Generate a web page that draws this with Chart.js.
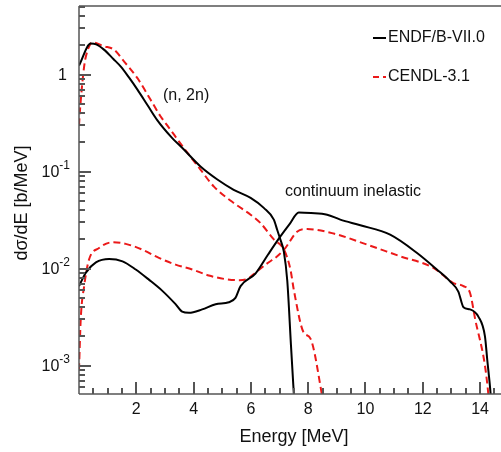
<!DOCTYPE html>
<html>
<head>
<meta charset="utf-8">
<script src="https://cdn.jsdelivr.net/npm/chart.js@4.4.1/dist/chart.umd.min.js"></script>
<style>
  html, body { margin: 0; padding: 0; background: #fff; overflow: hidden; }
  canvas { display: block; }
</style>
</head>
<body>
<canvas id="chart" width="501" height="452"></canvas>
<script>
// ENDF/B-VII.0, (n,2n) spectrum
const endf2nE = [0, 0.41, 0.6, 0.87, 1.2, 1.46, 1.75, 2.04, 2.4, 2.73, 3.2, 3.66, 4.24, 4.83, 5.4, 5.99, 6.45, 6.8, 6.92, 7.03, 7.15, 7.27, 7.4, 7.52];
const endf2nV = [1.24, 2.09, 2.05, 1.81, 1.45, 1.21, 0.93, 0.70, 0.48, 0.34, 0.231, 0.169, 0.113, 0.083, 0.065, 0.0536, 0.0423, 0.032, 0.025, 0.0199, 0.0150, 0.0075, 0.0016, 0.0004];

// ENDF/B-VII.0, continuum inelastic
const endfInE = [0, 0.24, 0.59, 1.05, 1.52, 1.98, 2.44, 2.91, 3.37, 3.6, 3.84, 4.3, 4.77, 5.23, 5.46, 5.64, 6.16, 6.6, 7.03, 7.35, 7.67, 8.1, 8.66, 9.12, 9.82, 10.86, 11.8, 12.49, 12.95, 13.24, 13.42, 13.65, 13.94, 14.17, 14.25, 14.37, 14.45];
const endfInV = [0.0066, 0.0091, 0.0116, 0.0126, 0.0119, 0.0098, 0.0077, 0.0059, 0.0043, 0.0036, 0.0035, 0.0038, 0.0043, 0.0045, 0.0050, 0.0066, 0.0089, 0.0140, 0.0215, 0.0288, 0.038, 0.0375, 0.036, 0.032, 0.028, 0.0224, 0.0145, 0.0098, 0.0074, 0.0058, 0.0040, 0.0038, 0.0032, 0.0020, 0.00115, 0.0005, 0.0002];

// CENDL-3.1, (n,2n) spectrum
const cendl2nE = [0, 0.04, 0.18, 0.32, 0.47, 0.87, 1.22, 1.57, 2.04, 2.5, 2.85, 3.08, 3.66, 4.24, 4.71, 5.4, 5.99, 6.33, 6.8, 7.15, 7.38, 7.5, 7.84, 8.08, 8.48, 8.6];
const cendl2nV = [0.3, 0.45, 1.22, 1.85, 2.15, 1.96, 1.81, 1.37, 0.92, 0.55, 0.37, 0.30, 0.175, 0.105, 0.07, 0.0475, 0.036, 0.0296, 0.020, 0.0158, 0.0098, 0.006, 0.0022, 0.0019, 0.0005, 0.0003];

// CENDL-3.1, continuum inelastic
const cendlInE = [0, 0.06, 0.18, 0.35, 0.7, 1.17, 1.63, 2.21, 2.79, 3.37, 3.95, 4.53, 5.11, 5.6, 5.9, 6.16, 6.6, 6.92, 7.2, 7.61, 7.96, 8.89, 10.05, 11.21, 12.37, 13.07, 13.42, 13.65, 13.83, 14.17, 14.29, 14.4];
const cendlInV = [0.0009, 0.003, 0.0066, 0.0124, 0.0163, 0.0187, 0.018, 0.0157, 0.0129, 0.011, 0.0098, 0.0085, 0.0078, 0.0076, 0.0079, 0.0091, 0.0115, 0.0134, 0.0163, 0.024, 0.0256, 0.023, 0.0177, 0.0134, 0.0102, 0.0071, 0.0066, 0.0056, 0.003, 0.001, 0.0005, 0.0002];

const xTicks = [2, 4, 6, 8, 10, 12, 14];
const yTicks = [1, 0.1, 0.01, 0.001];
const yTickLabels = ['1', '10|-1', '10|-2', '10|-3'];

const FONT = '"Liberation Sans", Arial, Helvetica, sans-serif';
const AXIS_COLOR = '#555';
const RED = 'rgb(235, 25, 25)';

function pts(xs, ys) {
    return xs.map((x, i) => ({ x: x, y: ys[i] }));
}

function seg(ctx, x1, y1, x2, y2) {
    ctx.beginPath();
    ctx.moveTo(x1, y1);
    ctx.lineTo(x2, y2);
    ctx.stroke();
}

// draws the frame, inward ticks, labels, titles and the legend
const decorPlugin = {
    id: 'decor',
    afterDraw(chart) {
        const ctx = chart.ctx;
        const area = chart.chartArea;
        const xs = chart.scales.x;
        const ys = chart.scales.y;

        ctx.save();
        ctx.setLineDash([]);
        ctx.strokeStyle = AXIS_COLOR;
        ctx.lineWidth = 1.5;

        // frame: left, bottom, top
        seg(ctx, area.left, area.top, area.left, area.bottom);
        seg(ctx, area.left, area.bottom, area.right, area.bottom);
        seg(ctx, area.left, area.top, area.right, area.top);

        // x ticks (inside, pointing up)
        ctx.fillStyle = AXIS_COLOR;
        for (let i = 1; i <= 29; i++) {
            const px = Math.round(xs.getPixelForValue(i * 0.5));
            const len = (i % 4 === 0) ? 12 : 6;
            ctx.fillRect(px - 1, area.bottom - len, 2, len);
        }
        // y ticks (inside, pointing right)
        for (let k = -4; k <= 0; k++) {
            for (let m = 1; m <= 9; m++) {
                const v = m * Math.pow(10, k);
                if (v < 5.1e-4 || v > 5.1) continue;
                const py = Math.round(ys.getPixelForValue(v));
                ctx.fillRect(area.left, py - 1, m === 1 ? 12 : 6, 2);
            }
        }

        // x tick labels
        ctx.fillStyle = '#111';
        ctx.font = '16px ' + FONT;
        ctx.textAlign = 'center';
        ctx.textBaseline = 'middle';
        xTicks.forEach(v => {
            ctx.fillText(String(v), xs.getPixelForValue(v), 410);
        });

        // y tick labels, with superscript exponents
        yTicks.forEach((v, i) => {
            const py = ys.getPixelForValue(v) + 1;
            const parts = yTickLabels[i].split('|');
            const right = 70;
            ctx.textAlign = 'right';
            ctx.textBaseline = 'middle';
            if (parts.length === 1) {
                ctx.font = '16px ' + FONT;
                ctx.fillText(parts[0], right - 3, py);
            } else {
                ctx.font = '12px ' + FONT;
                const supW = ctx.measureText(parts[1]).width;
                ctx.fillText(parts[1], right, py - 7);
                ctx.font = '16px ' + FONT;
                ctx.fillText(parts[0], right - supW, py);
            }
        });

        // axis titles
        ctx.font = '18px ' + FONT;
        ctx.textAlign = 'center';
        ctx.fillText('Energy [MeV]', 294, 437);
        ctx.save();
        ctx.translate(22, 203);
        ctx.rotate(-Math.PI / 2);
        ctx.fillText('dσ/dE [b/MeV]', 0, 0);
        ctx.restore();

        // curve annotations
        ctx.font = '16px ' + FONT;
        ctx.textAlign = 'left';
        ctx.fillText('(n, 2n)', 163, 96);
        ctx.fillText('continuum inelastic', 285, 192);

        // legend
        ctx.fillText('ENDF/B-VII.0', 388, 38);
        ctx.fillText('CENDL-3.1', 388, 77);
        ctx.lineWidth = 2;
        ctx.strokeStyle = '#000';
        seg(ctx, 373, 38, 386, 38);
        ctx.strokeStyle = RED;
        seg(ctx, 373, 77, 379, 77);
        seg(ctx, 383, 77, 386, 77);

        ctx.restore();
    }
};

function line(data, color, dashed) {
    return {
        data: data,
        borderColor: color,
        borderWidth: 2,
        borderDash: dashed ? [7, 4] : [],
        pointRadius: 0,
        cubicInterpolationMode: 'monotone',
        fill: false
    };
}

new Chart(document.getElementById('chart'), {
    type: 'line',
    data: {
        datasets: [
            line(pts(endf2nE, endf2nV), '#000', false),
            line(pts(endfInE, endfInV), '#000', false),
            line(pts(cendl2nE, cendl2nV), RED, true),
            line(pts(cendlInE, cendlInV), RED, true)
        ]
    },
    options: {
        responsive: false,
        animation: false,
        devicePixelRatio: 1,
        layout: { autoPadding: false, padding: { left: 79, top: 6, right: 0, bottom: 58 } },
        plugins: {
            legend: { display: false },
            tooltip: { enabled: false }
        },
        scales: {
            x: { type: 'linear', min: 0, max: 14.73, display: false },
            y: { type: 'logarithmic', min: 5.1e-4, max: 5.1, display: false }
        }
    },
    plugins: [decorPlugin]
});
</script>
</body>
</html>
